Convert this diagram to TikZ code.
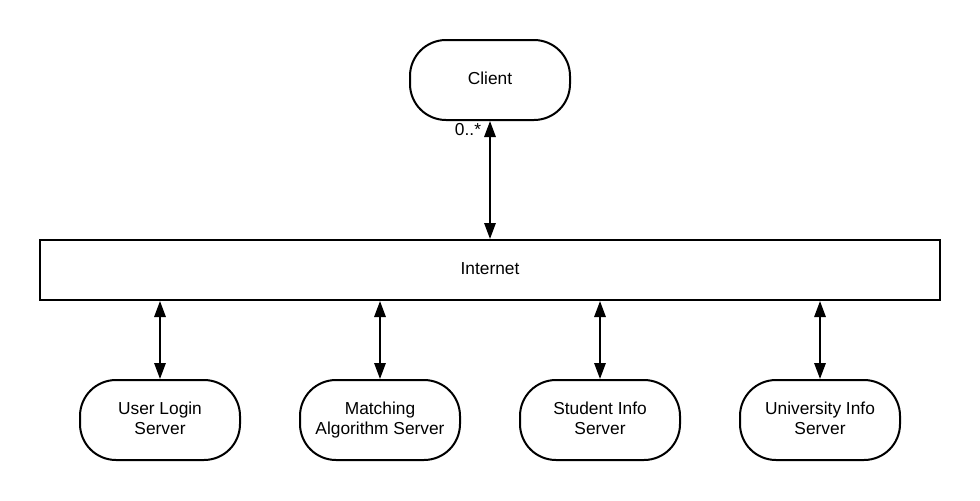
\documentclass[tikz,border=0pt]{standalone}
\usepackage{fontspec}
\setmainfont{Liberation Sans}
\usetikzlibrary{arrows.meta}
\begin{document}
\begin{tikzpicture}[x=0.75pt,y=-0.75pt,
  txt/.style={font=\fontsize{13}{15}\selectfont},
  term/.style={txt,draw=black,line width=1.5pt,rounded corners=27pt,minimum width=120pt,minimum height=60pt,inner sep=0pt,align=center,text depth=2pt},
  bus/.style={txt,draw=black,line width=1.5pt,minimum width=675pt,minimum height=45pt,inner sep=0pt,text depth=2pt},
  link/.style={line width=1.5pt,{Triangle[length=12pt,width=8.5pt]}-{Triangle[length=12pt,width=8.5pt]}}]
\useasboundingbox (0,0) rectangle (980,500);
\node[term] (client) at (490,80) {Client};
\node[bus] (inet) at (490,270) {Internet};
\node[term] (login) at (160,420) {User Login\\Server};
\node[term] (match) at (380,420) {Matching\\Algorithm Server};
\node[term] (student) at (600,420) {Student Info\\Server};
\node[term] (univ) at (820,420) {University Info\\Server};
\draw[link] (client.south) -- (inet.north -| client.south) node[txt,pos=0,anchor=north east,inner sep=1pt,xshift=-5pt] {0..*};
\foreach \n in {login,match,student,univ}
  \draw[link] (inet.south -| \n.north) -- (\n.north);
\end{tikzpicture}
\end{document}
